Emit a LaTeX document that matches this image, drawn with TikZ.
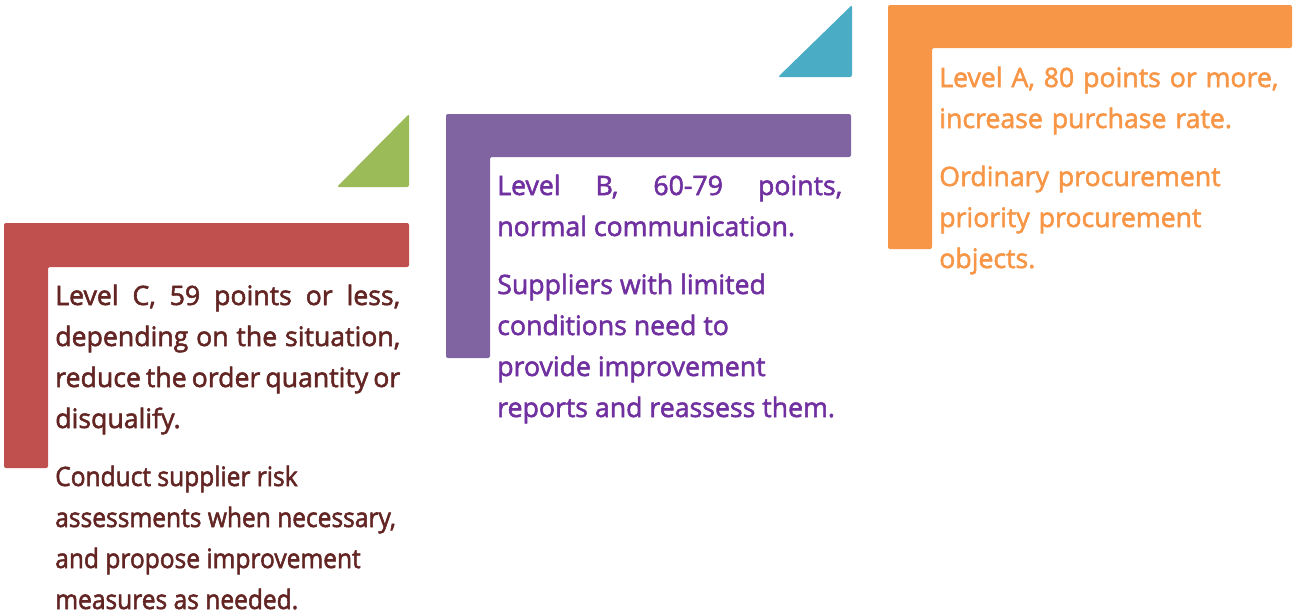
\documentclass[tikz,border=0pt]{standalone}
\usepackage{fontspec}
\setmainfont{Open Sans}[UprightFeatures={FakeBold=2}]
\newfontfamily\condfont{Open Sans}[FakeStretch=0.92, FakeBold=2]
\usepackage{xcolor}
\usetikzlibrary{positioning}
\setlength{\parindent}{0pt}

\definecolor{lvlorange}{HTML}{F79646}
\definecolor{lvlteal}{HTML}{4BACC6}
\definecolor{lvlpurple}{HTML}{8064A2}
\definecolor{lvlgreen}{HTML}{9BBB59}
\definecolor{lvlred}{HTML}{C0504D}
\definecolor{txtpurple}{HTML}{7030A0}
\definecolor{txtred}{HTML}{632523}

\begin{document}
\begin{tikzpicture}[
		  x=0.75pt, y=-0.75pt,
		  font=\fontsize{20pt}{30.75pt}\selectfont,
		  lshape/.style={fill=#1, rounded corners=1.5pt},
		  corner/.style={fill=#1, rounded corners=1.5pt},
		  infotext/.style={
		    anchor=base west,
		    inner sep=0pt,
		    text width=258.75pt
		  }
		]
		\useasboundingbox (0,0) rectangle (1293,615);

		% --- level A (top) ---
		\fill[lshape=lvlorange] (888,5) -- (1292,5) -- (1292,48) -- (932,48) -- (932,249) -- (888,249) -- cycle;
		\fill[corner=lvlteal] (778,77) -- (852,5) -- (852,77) -- cycle;
		\node[infotext, align=left, text=lvlorange] (textA) at (939,87)
		  {Level A, 80 points or more,\newline increase purchase rate.\par\vspace{12.75pt}
		   Ordinary procurement\newline priority procurement\newline objects.};

		% --- level B (middle) ---
		\fill[lshape=lvlpurple] (446,114) -- (851,114) -- (851,157) -- (490,157) -- (490,358) -- (446,358) -- cycle;
		\fill[corner=lvlgreen] (337,187) -- (409,114) -- (409,187) -- cycle;
		\node[infotext, align=justify, text=txtpurple] (textB) at (497,195)
		  {Level B, 60-79 points,\linebreak normal communication.\par\vspace{12.75pt}
		   \raggedright Suppliers with limited\newline conditions need to\newline provide improvement\newline reports and reassess them.};

		% --- level C (bottom) ---
		\fill[lshape=lvlred] (4,223) -- (409,223) -- (409,267) -- (48,267) -- (48,468) -- (4,468) -- cycle;
		\node[infotext, align=justify, text=txtred] (textC) at (55,305)
		  {Level C, 59 points or less,\linebreak depending on the situation,\linebreak reduce the order quantity or\linebreak disqualify.\par\vspace{12.75pt}
		   \raggedright\condfont Conduct supplier risk\newline assessments when necessary,\newline and propose improvement\newline measures as needed.};

		\end{tikzpicture}
\end{document}
